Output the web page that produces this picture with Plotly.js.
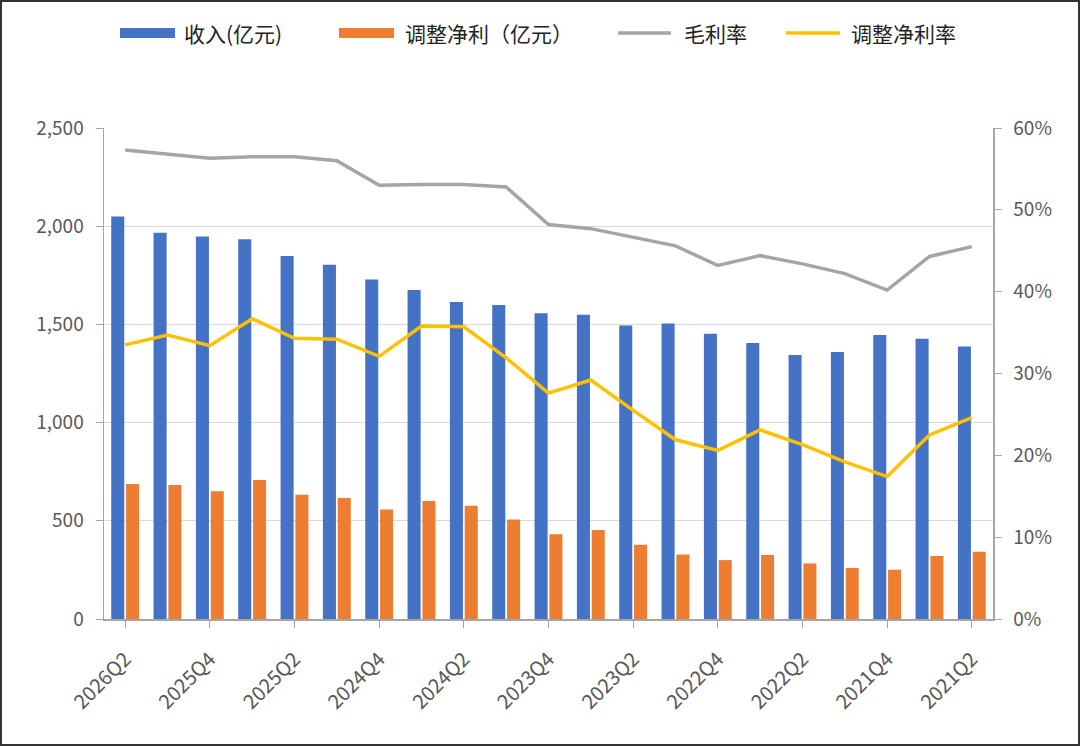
<!DOCTYPE html>
<html>
<head>
<meta charset="utf-8">
<script src="https://cdn.plot.ly/plotly-3.0.1.min.js"></script>
<style>
  html, body { margin: 0; padding: 0; background: #fff; }
  #chart { width: 1080px; height: 746px; box-sizing: border-box; border: 2px solid #333; }
</style>
</head>
<body>
<div id="chart"></div>
<script>
// quarters, newest first (as in the source chart)
const quarters = ['2026Q2', '2026Q1', '2025Q4', '2025Q3', '2025Q2', '2025Q1', '2024Q4', '2024Q3',
    '2024Q2', '2024Q1', '2023Q4', '2023Q3', '2023Q2', '2023Q1', '2022Q4', '2022Q3',
    '2022Q2', '2022Q1', '2021Q4', '2021Q3', '2021Q2'];
const tickQuarters = ['2026Q2', '2025Q4', '2025Q2', '2024Q4', '2024Q2', '2023Q4',
    '2023Q2', '2022Q4', '2022Q2', '2021Q4', '2021Q2'];

// 收入(亿元)
const revenue = [2050, 1967, 1947, 1933, 1848, 1804, 1728, 1675, 1614, 1599, 1557,
    1549, 1495, 1505, 1453, 1405, 1344, 1359, 1446, 1427, 1387];
// 调整净利（亿元）
const adjProfit = [687, 682, 650, 708, 633, 616, 557, 601, 577, 506, 431,
    453, 378, 329, 300, 326, 283, 260, 251, 321, 343];
// 毛利率 (%)
const grossMargin = [57.3, 56.8, 56.3, 56.5, 56.5, 56.0, 53.0, 53.1, 53.1, 52.8, 48.2,
    47.7, 46.7, 45.6, 43.2, 44.4, 43.4, 42.2, 40.2, 44.3, 45.5];
// 调整净利率 (%)
const adjMargin = [33.5, 34.7, 33.4, 36.7, 34.3, 34.2, 32.1, 35.8, 35.7, 31.9, 27.6,
    29.2, 25.5, 21.9, 20.6, 23.1, 21.3, 19.2, 17.4, 22.5, 24.6];

const seriesNames = ['收入(亿元)', '调整净利（亿元）', '毛利率', '调整净利率'];
const seriesColors = ['#4472c4', '#ed7d31', '#a5a5a5', '#ffc000'];

const font = 'Noto Sans CJK SC, Noto Sans, sans-serif';

// plot area in pixels
const L = 104, R = 993, T = 128, B = 619;
const px = x => (x - L) / (R - L);
const py = y => (B - y) / (B - T);

const traces = [
    { type: 'bar', x: quarters, y: revenue, name: seriesNames[0],
      marker: { color: seriesColors[0] }, showlegend: false },
    { type: 'bar', x: quarters, y: adjProfit, name: seriesNames[1],
      marker: { color: seriesColors[1] }, showlegend: false },
    { type: 'scatter', mode: 'lines', x: quarters, y: grossMargin.map(v => v / 100), yaxis: 'y2',
      name: seriesNames[2], line: { color: seriesColors[2], width: 3.5 }, showlegend: false },
    { type: 'scatter', mode: 'lines', x: quarters, y: adjMargin.map(v => v / 100), yaxis: 'y2',
      name: seriesNames[3], line: { color: seriesColors[3], width: 3.5 }, showlegend: false }
];

// hand-made legend along the top (wide swatches like the source)
const legendX = [[120, 175, 182], [339, 394, 403], [618, 671, 682], [786, 840, 849]];
const legY = 33;
const shapes = [];
const annotations = [];
seriesNames.forEach((name, i) => {
    const [a, b, t] = legendX[i];
    if (i < 2) {
        shapes.push({ type: 'rect', xref: 'paper', yref: 'paper',
            x0: px(a), x1: px(b), y0: py(legY + 5), y1: py(legY - 5),
            fillcolor: seriesColors[i], line: { width: 0 } });
    } else {
        shapes.push({ type: 'line', xref: 'paper', yref: 'paper',
            x0: px(a), x1: px(b), y0: py(legY), y1: py(legY),
            line: { color: seriesColors[i], width: 3.5 } });
    }
    annotations.push({ xref: 'paper', yref: 'paper', x: px(t), y: py(legY),
        xanchor: 'left', yanchor: 'middle', showarrow: false, text: name,
        font: { family: font, size: 21, color: '#222' } });
});

const layout = {
    width: 1076, height: 742,
    margin: { l: L - 2, r: 1080 - R - 2, t: T - 2, b: 746 - B - 2 },
    paper_bgcolor: '#fff', plot_bgcolor: '#fff',
    barmode: 'group', bargap: 0.3, bargroupgap: 0.12,
    showlegend: false,
    font: { family: font, size: 18, color: '#595959' },
    xaxis: {
        type: 'category', tickmode: 'array', tickvals: tickQuarters, ticktext: tickQuarters,
        tickangle: -45, ticks: 'outside', ticklen: 7, tickcolor: '#a6a6a6',
        showline: true, linecolor: '#a6a6a6', linewidth: 1.5, showgrid: false,
        ticklabelstandoff: 12, tickfont: { size: 20, color: '#595959' }
    },
    yaxis: {
        range: [0, 2500], dtick: 500, tickformat: ',', ticks: 'outside', ticklen: 7,
        tickcolor: '#a6a6a6', showline: true, linecolor: '#a6a6a6', linewidth: 1.5,
        gridcolor: '#d9d9d9', gridwidth: 1, zeroline: false, ticklabelstandoff: 8,
        tickfont: { size: 19, color: '#595959' }
    },
    yaxis2: {
        overlaying: 'y', side: 'right', range: [0, 0.6], dtick: 0.1, tickformat: '.0%',
        ticks: 'outside', ticklen: 7, tickcolor: '#a6a6a6', showline: true,
        linecolor: '#a6a6a6', linewidth: 1.5, showgrid: false, zeroline: false,
        ticklabelstandoff: 8, tickfont: { size: 19, color: '#595959' }
    },
    shapes: shapes,
    annotations: annotations
};

Plotly.newPlot('chart', traces, layout, { displayModeBar: false, staticPlot: true });
</script>
</body>
</html>
